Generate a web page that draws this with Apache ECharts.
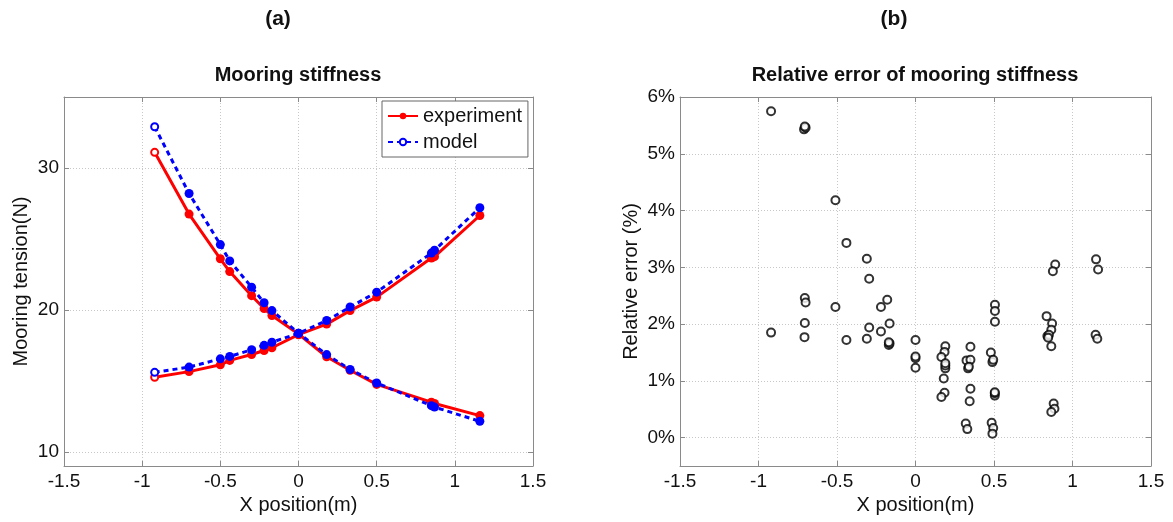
<!DOCTYPE html>
<html>
<head>
<meta charset="utf-8">
<script src="https://cdn.jsdelivr.net/npm/echarts@6/dist/echarts.min.js"></script>
<style>
html,body{margin:0;padding:0;background:#fff;}
#c{width:1173px;height:522px;}
</style>
</head>
<body>
<div id="c"></div>
<script>
// ---- Data: panel (a) ----
const xPos = [-0.92, -0.70, -0.50, -0.44, -0.30, -0.22, -0.17, 0, 0.18, 0.33, 0.50, 0.85, 0.87, 1.16];
const expDecreasing = [31.1, 26.75, 23.6, 22.7, 21.0, 20.1, 19.6, 18.3, 16.7, 15.75, 14.75, 13.5, 13.4, 12.55];
const expIncreasing = [15.25, 15.65, 16.13, 16.44, 16.86, 17.14, 17.33, 18.25, 19.0, 19.95, 20.9, 23.65, 23.75, 26.65];
const modelDecreasing = [32.9, 28.2, 24.6, 23.45, 21.6, 20.5, 19.95, 18.35, 16.85, 15.8, 14.85, 13.25, 13.15, 12.15];
const modelIncreasing = [15.6, 15.97, 16.55, 16.72, 17.19, 17.5, 17.72, 18.35, 19.25, 20.2, 21.25, 24.0, 24.2, 27.2];
const tensionTicks = [10, 20, 30];

// ---- Data: panel (b) ----
const errX = [-0.92, -0.71, -0.70, -0.705, -0.51, -0.44, -0.31, -0.295, -0.705, -0.70, -0.51, -0.18, -0.22, -0.165, -0.705, -0.92, -0.295, -0.22, -0.707, -0.44, -0.31, -0.17, -0.165, -0.17,
  0, 0, 0, 0, 0.19, 0.185, 0.165, 0.19, 0.19, 0.19, 0.18, 0.185, 0.165,
  0.35, 0.325, 0.35, 0.335, 0.34, 0.35, 0.345, 0.32, 0.33,
  0.506, 0.506, 0.506, 0.48, 0.49, 0.495, 0.505, 0.505, 0.505, 0.485, 0.495, 0.49,
  0.89, 0.875, 0.835, 0.87, 0.865, 0.84, 0.85, 0.845, 0.865, 0.88, 0.885, 0.865,
  1.15, 1.163, 1.147, 1.158];
const errY = [5.75, 5.43, 5.46, 5.48, 4.18, 3.43, 3.15, 2.80, 2.46, 2.38, 2.30, 2.43, 2.30, 2.01, 2.02, 1.85, 1.94, 1.87, 1.77, 1.72, 1.74, 1.63, 1.66, 1.68,
  1.72, 1.40, 1.43, 1.23, 1.61, 1.51, 1.42, 1.22, 1.27, 1.31, 1.04, 0.79, 0.715,
  1.60, 1.36, 1.37, 1.22, 1.25, 0.86, 0.64, 0.25, 0.15,
  2.34, 2.23, 2.04, 1.50, 1.33, 1.37, 0.74, 0.78, 0.80, 0.26, 0.17, 0.07,
  3.05, 2.93, 2.14, 2.01, 1.90, 1.79, 1.81, 1.76, 1.61, 0.60, 0.51, 0.45,
  3.14, 2.96, 1.81, 1.74];
const errTicks = [0, 1, 2, 3, 4, 5, 6];

const FONT = 'Liberation Sans, Arial, sans-serif';
// first point of each curve drawn as a small open ring, others as filled dots
const pair = (xs, ys) => xs.map((x, i) => i === 0
  ? {value: [x, ys[i]], symbol: 'emptyCircle', symbolSize: 7}
  : {value: [x, ys[i]], symbol: 'circle', symbolSize: 9});
const scatterPairs = (xs, ys) => xs.map((x, i) => [x, ys[i]]);

const frameColor = '#8a8a8a';
const gridLine = {show: true, lineStyle: {color: '#c8c8c8', type: [1, 2], width: 1}};

function xAxisCfg(gi, pos, withLabel) {
  return {
    type: 'value', gridIndex: gi, position: pos, min: -1.5, max: 1.5, interval: 0.5,
    axisLine: {show: true, onZero: false, lineStyle: {color: frameColor, width: 1}},
    axisTick: {show: true, inside: true, length: 5, lineStyle: {color: frameColor}},
    axisLabel: {show: withLabel, color: '#111', fontSize: 19, fontFamily: FONT, margin: 6,
      formatter: v => String(v)},
    splitLine: withLabel ? gridLine : {show: false},
    name: withLabel ? 'X position(m)' : '', nameLocation: 'middle', nameGap: 26,
    nameTextStyle: {color: '#111', fontSize: 20, fontFamily: FONT}
  };
}
function yAxisCfg(gi, pos, withLabel, min, max, ticks, name, nameGap, fmt) {
  return {
    type: 'value', gridIndex: gi, position: pos, min: min, max: max,
    axisLine: {show: true, onZero: false, lineStyle: {color: frameColor, width: 1}},
    axisTick: {show: true, inside: true, length: 5, lineStyle: {color: frameColor}, customValues: ticks},
    axisLabel: {show: withLabel, color: '#111', fontSize: 19, fontFamily: FONT, margin: 5, customValues: ticks, formatter: fmt},
    splitLine: withLabel ? gridLine : {show: false},
    name: withLabel ? name : '', nameLocation: 'middle', nameGap: nameGap, nameRotate: 90,
    nameTextStyle: {color: '#111', fontSize: 20, fontFamily: FONT}
  };
}

const chart = echarts.init(document.getElementById('c'), null, {renderer: 'canvas'});
const expStyle = {type: 'line', name: 'experiment', symbol: 'circle', symbolSize: 9,
  itemStyle: {color: '#ff0000', borderWidth: 2}, lineStyle: {color: '#ff0000', width: 3}, xAxisIndex: 0, yAxisIndex: 0, z: 3};
const modStyle = {type: 'line', name: 'model', symbol: 'emptyCircle', symbolSize: 9,
  itemStyle: {color: '#0000ff', borderWidth: 2}, lineStyle: {color: '#0000ff', width: 3, type: [5, 4]}, xAxisIndex: 0, yAxisIndex: 0, z: 4};

chart.setOption({
  animation: false,
  textStyle: {fontFamily: FONT},
  grid: [
    {left: 64, top: 97, width: 469, height: 369, show: false},
    {left: 680, top: 97, width: 471, height: 369, show: false}
  ],
  xAxis: [xAxisCfg(0, 'bottom', true), xAxisCfg(0, 'top', false), xAxisCfg(1, 'bottom', true), xAxisCfg(1, 'top', false)],
  yAxis: [
    yAxisCfg(0, 'left', true, 9, 35, tensionTicks, 'Mooring tension(N)', 33, v => String(v)),
    yAxisCfg(0, 'right', false, 9, 35, tensionTicks, '', 0, v => String(v)),
    yAxisCfg(1, 'left', true, -0.5, 6, errTicks, 'Relative error (%)', 39, v => v + '%'),
    yAxisCfg(1, 'right', false, -0.5, 6, errTicks, '', 0, v => v + '%')
  ],
  legend: {
    left: 382, top: 101, orient: 'vertical', data: ['experiment', 'model'],
    itemWidth: 30, itemHeight: 8, itemGap: 6, padding: [5, 6, 5, 5],
    borderColor: '#666', borderWidth: 1, backgroundColor: '#fff', borderRadius: 0,
    textStyle: {fontSize: 20, color: '#111', fontFamily: FONT}
  },
  graphic: [
    {type: 'text', x: 278, y: 19, style: {text: '(a)', font: 'bold 21px ' + FONT, fill: '#111', textAlign: 'center', textVerticalAlign: 'middle'}},
    {type: 'text', x: 894, y: 19, style: {text: '(b)', font: 'bold 21px ' + FONT, fill: '#111', textAlign: 'center', textVerticalAlign: 'middle'}},
    {type: 'text', x: 298, y: 75, style: {text: 'Mooring stiffness', font: 'bold 20px ' + FONT, fill: '#111', textAlign: 'center', textVerticalAlign: 'middle'}},
    {type: 'text', x: 915, y: 75, style: {text: 'Relative error of mooring stiffness', font: 'bold 20px ' + FONT, fill: '#111', textAlign: 'center', textVerticalAlign: 'middle'}}
  ],
  series: [
    Object.assign({}, expStyle, {data: pair(xPos, expDecreasing)}),
    Object.assign({}, expStyle, {data: pair(xPos, expIncreasing)}),
    Object.assign({}, modStyle, {data: pair(xPos, modelDecreasing)}),
    Object.assign({}, modStyle, {data: pair(xPos, modelIncreasing)}),
    {type: 'scatter', name: 'error', xAxisIndex: 2, yAxisIndex: 2, symbol: 'emptyCircle', symbolSize: 8,
      itemStyle: {color: '#000', borderColor: '#000', borderWidth: 2.2}, data: scatterPairs(errX, errY)}
  ]
});
</script>
</body>
</html>
